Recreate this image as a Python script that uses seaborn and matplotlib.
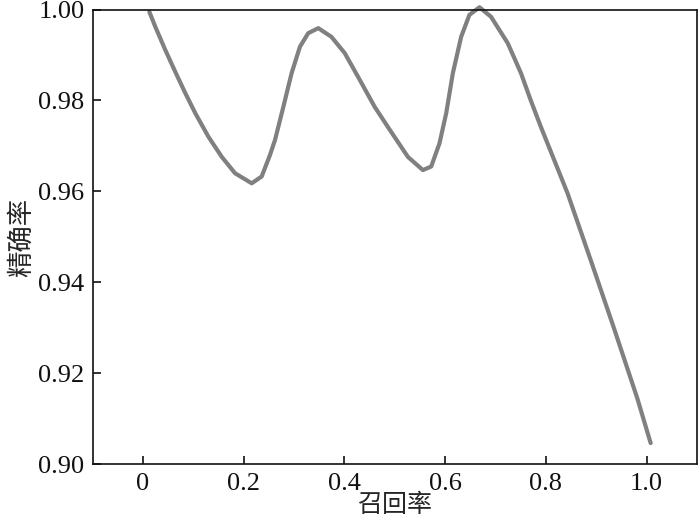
import pandas as pd
import matplotlib
matplotlib.use("Agg")
import matplotlib.pyplot as plt
import seaborn as sns

# Precision-recall curve values
recall = [0.0125, 0.0244, 0.0442, 0.064, 0.084, 0.1038, 0.130, 0.1564, 0.1828, 0.2158,
          0.2356, 0.252, 0.262, 0.2786, 0.295, 0.3115, 0.328, 0.348, 0.374, 0.4006,
          0.427, 0.460, 0.4897, 0.526, 0.5558, 0.5723, 0.5887, 0.602, 0.6152,
          0.6317, 0.648, 0.668, 0.691, 0.7242, 0.7505, 0.770, 0.790, 0.843, 0.889,
          0.935, 0.9816, 1.008]
precision = [0.9995, 0.9962, 0.9911, 0.9863, 0.9816, 0.9772, 0.9720, 0.9676, 0.9640, 0.9618,
             0.9633, 0.9680, 0.9713, 0.9786, 0.9860, 0.9918, 0.9948, 0.9959, 0.9940, 0.9904,
             0.9852, 0.9786, 0.9736, 0.9676, 0.9647, 0.9655, 0.9706, 0.9772, 0.9860,
             0.9940, 0.9988, 1.0005, 0.9984, 0.9926, 0.9860, 0.9800, 0.9742, 0.9596, 0.9449,
             0.9300, 0.9145, 0.9047]

xticks = [0, 0.2, 0.4, 0.6, 0.8, 1.0]
xtick_labels = ["0", "0.2", "0.4", "0.6", "0.8", "1.0"]
yticks = [0.90, 0.92, 0.94, 0.96, 0.98, 1.00]

data = pd.DataFrame({"recall": recall, "precision": precision})

sns.set_style("ticks")
plt.rcParams["font.family"] = ["Liberation Serif", "Noto Sans CJK SC"]
plt.rcParams["axes.linewidth"] = 1.2

fig = plt.figure(figsize=(7, 5.22), dpi=100)
ax = fig.add_axes([0.1324, 0.1102, 0.8633, 0.8716])

# sort=False keeps the curve in recall order as read
sns.lineplot(x="recall", y="precision", data=data, sort=False, color="#808080",
             linewidth=3, ax=ax, clip_on=False)

ax.set_xlim(-0.1, 1.1)
ax.set_ylim(0.90, 1.00)
ax.set_xticks(xticks)
ax.set_xticklabels(xtick_labels)
ax.set_yticks(yticks)
ax.set_yticklabels(["%.2f" % v for v in yticks])
ax.tick_params(direction="in", length=6, width=1.2, labelsize=19, pad=6, colors="#111111")
for s in ax.spines.values():
    s.set_visible(True)
    s.set_color("#111111")

ax.set_xlabel("召回率", fontsize=18, family=["Noto Sans CJK SC"], labelpad=-2)
ax.set_ylabel("精确率", fontsize=19, family=["Noto Sans CJK SC"], labelpad=2)

fig.savefig("out.png", dpi=100)
